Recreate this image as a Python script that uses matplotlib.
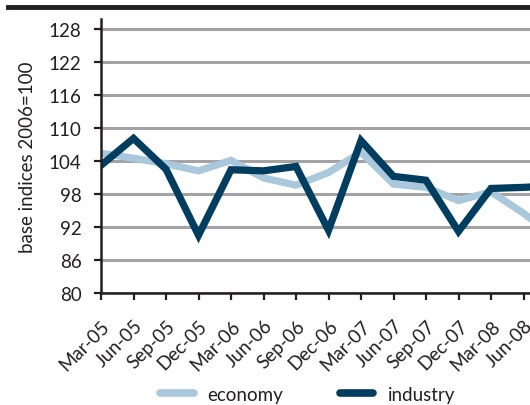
import matplotlib.pyplot as plt
from matplotlib.lines import Line2D

quarters = ['Mar-05', 'Jun-05', 'Sep-05', 'Dec-05', 'Mar-06', 'Jun-06', 'Sep-06',
            'Dec-06', 'Mar-07', 'Jun-07', 'Sep-07', 'Dec-07', 'Mar-08', 'Jun-08', 'Sep-08']
economy = [105.4, 104.5, 103.5, 102.2, 104.1, 100.9, 99.6,
           101.9, 105.6, 99.8, 99.2, 96.8, 98.4, 94.5, 90.0]
industry = [103.2, 108.1, 102.5, 90.5, 102.4, 102.2, 103.0,
            91.4, 107.7, 101.2, 100.5, 91.2, 99.0, 99.2, 99.5]
y_ticks = [80, 86, 92, 98, 104, 110, 116, 122, 128]

plt.rcParams['font.family'] = ['Lato', 'DejaVu Sans']

fig = plt.figure(figsize=(5.3, 4.06), dpi=100)
# plot area runs off the right edge like the cropped original
ax = fig.add_axes([101 / 530, 1 - 294 / 406, 455 / 530, 274 / 406])

x = list(range(len(quarters)))
ax.plot(x, economy, color='#a9c8db', lw=5.2, solid_joinstyle='miter', label='economy', zorder=3)
ax.plot(x, industry, color='#003d5e', lw=5.2, solid_joinstyle='miter', label='industry', zorder=4)

ax.set_xlim(0, 14)
ax.set_ylim(80, 129.8)
ax.set_yticks(y_ticks)
ax.set_xticks(x)
ax.set_xticklabels(quarters[:-1] + [''], rotation=45, ha='right', rotation_mode='anchor')
ax.tick_params(axis='both', labelsize=13.5, length=5, width=1.6, color='#231f20', labelcolor='#231f20')
ax.tick_params(axis='x', pad=12)
ax.tick_params(axis='y', pad=9)
ax.grid(axis='y', color='#a3a3a6', lw=2.2, zorder=1)
ax.set_axisbelow(True)
for s in ['top', 'right']:
    ax.spines[s].set_visible(False)
for s in ['left', 'bottom']:
    ax.spines[s].set_linewidth(1.8)
    ax.spines[s].set_color('#231f20')
    ax.spines[s].set_zorder(5)
ax.set_ylabel('base indices 2006=100', fontsize=13.5, color='#231f20', labelpad=9)

leg = fig.legend(handles=[Line2D([], [], color='#a9c8db', lw=5.5, solid_capstyle='round'),
                          Line2D([], [], color='#003d5e', lw=5.5, solid_capstyle='round')],
                 labels=['economy', 'industry'], loc='center', bbox_to_anchor=(0.58, 0.027),
                 ncol=2, frameon=False, fontsize=13.5, handlelength=1.8, columnspacing=3.0,
                 handletextpad=0.75)
for t in leg.get_texts():
    t.set_color('#231f20')

# heavy rule under the (cropped) heading
fig.add_artist(Line2D([8 / 530, 1], [1 - 8 / 406] * 2, color='#231f20', lw=3.5,
                      transform=fig.transFigure))

fig.savefig('out.png', dpi=100)
